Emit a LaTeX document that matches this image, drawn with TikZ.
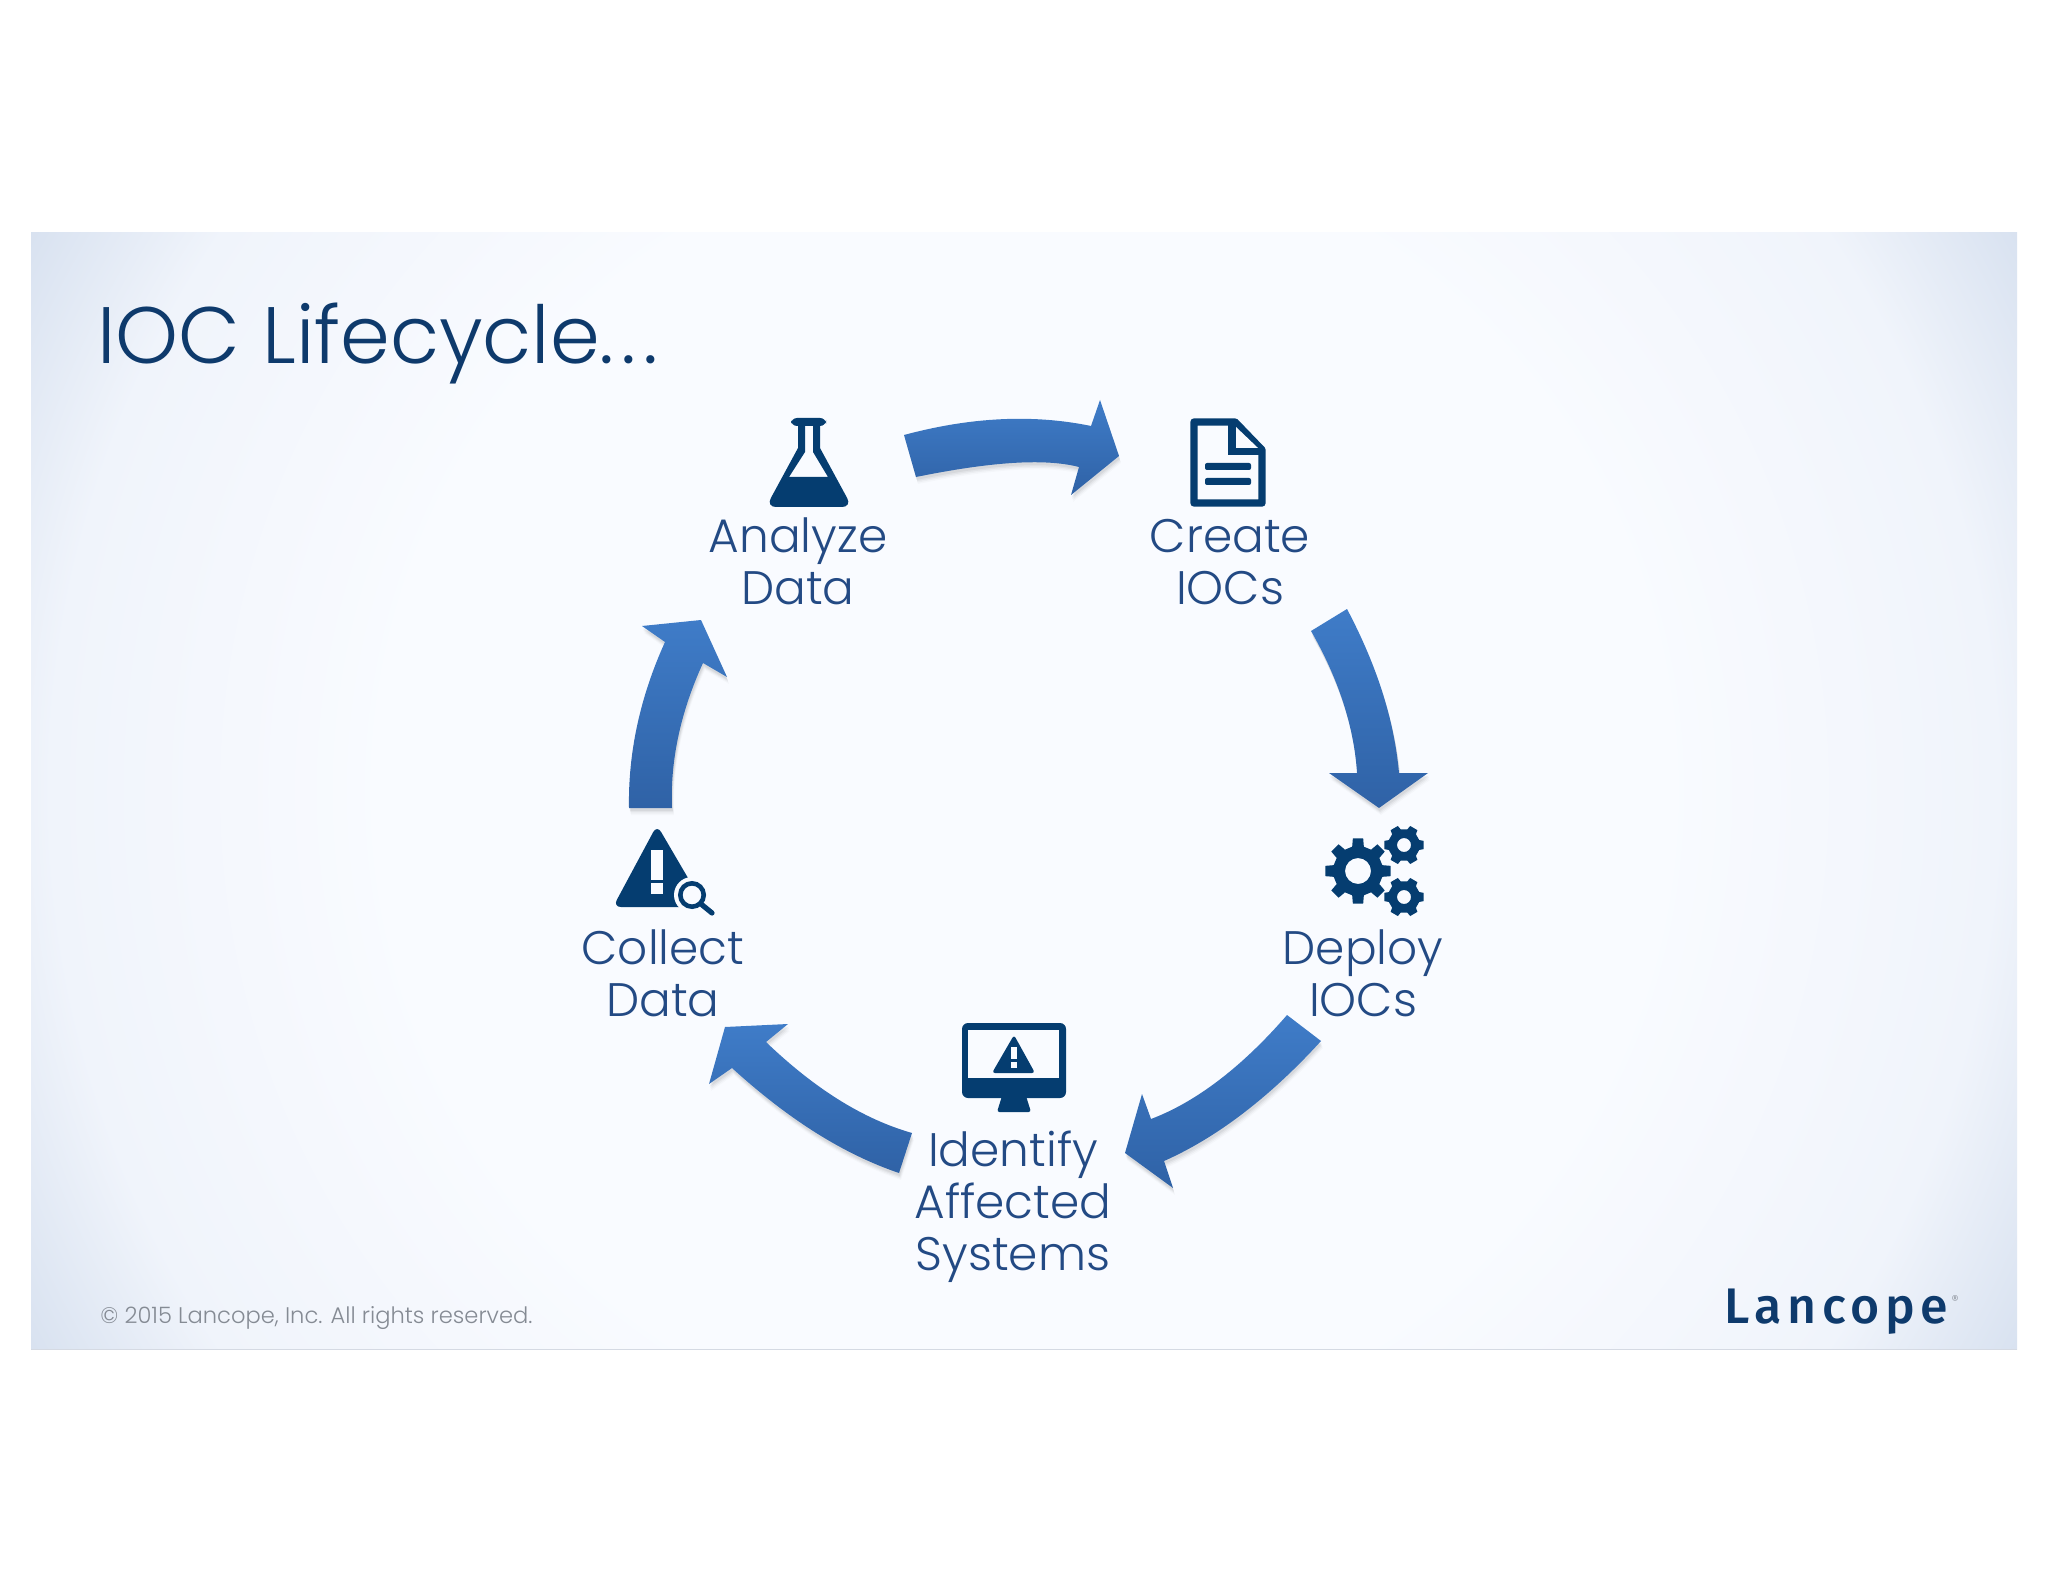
\documentclass[tikz,border=0pt]{standalone}
\usepackage{fontspec}
\setmainfont{Poppins Light}
\newfontfamily\logofont[LetterSpace=11]{Fira Sans Medium}
\usetikzlibrary{calc}
\definecolor{panelA}{HTML}{F9FBFF}
\definecolor{panelB}{HTML}{F0F4FB}
\definecolor{panelC}{HTML}{D6E0EF}
\definecolor{paneledge}{HTML}{D5DAE3}
\definecolor{icondark}{HTML}{053D70}
\definecolor{titleblue}{HTML}{0E3A6C}
\definecolor{labelblue}{HTML}{234A84}
\definecolor{copygrey}{HTML}{858B94}
\definecolor{arrowtop}{HTML}{3F7CC8}
\definecolor{arrowbot}{HTML}{2F62A6}
\pgfdeclareradialshading{panelbg}{\pgfpoint{0bp}{0bp}}{color(0bp)=(panelA); color(16bp)=(panelA); color(24.5bp)=(panelB); color(29bp)=(panelC); color(50bp)=(panelC)}
\tikzset{
  lbl/.style={text=labelblue,font=\fontsize{23.5}{26}\selectfont,align=center,anchor=base,inner sep=0pt},
  iconfill/.style={fill=icondark,draw=none},
  hole/.style={fill=panelA,draw=none}
}
\newcommand\blockarrow[1]{%
  \foreach \s/\o in {5/0.02,4/0.03,3/0.04,2/0.05}{\fill[black,opacity=\o,shift={(0.4*\s,1.4*\s)}] #1;}
  \shade[top color=arrowtop,bottom color=arrowbot] #1;
}
% centre x, centre y, tooth count, outer r, root r, hole r, phase
\newcommand\gearicon[7]{%
  \pgfmathsetmacro\st{360/#3}
  \fill[icondark,even odd rule]
    ([shift={(#1,#2)}]#7-0.30*\st:#5)
    \foreach \k in {1,...,#3}{
      -- ([shift={(#1,#2)}]#7+\k*\st-\st-0.20*\st:#4)
      -- ([shift={(#1,#2)}]#7+\k*\st-\st+0.20*\st:#4)
      -- ([shift={(#1,#2)}]#7+\k*\st-\st+0.30*\st:#5)
      -- ([shift={(#1,#2)}]#7+\k*\st-\st+0.70*\st:#5)
    } -- cycle
    (#1,#2) circle (#6);
}
\begin{document}
\begin{tikzpicture}[x=0.5pt,y=-0.5pt]
\useasboundingbox (0,0) rectangle (2048,1582);
\fill[white] (0,0) rectangle (2048,1582);
% panel
\begin{scope}
  \clip (31,233) rectangle (2017,1349);
  \shade[shading=panelbg] (31,-213) rectangle (2017,1795);
\end{scope}
\draw[color=paneledge,line width=0.5pt] (31,1349) -- (2017,1349);
% title
\node[anchor=base west,inner sep=0pt,text=titleblue,font=\fontsize{40}{44}\selectfont] (title) at (97,364) {IOC Lifecycle.\kern3.5pt.\kern3.5pt.};
\node[anchor=base west,inner sep=0pt,text=copygrey,font=\fontsize{11.3}{14}\selectfont] (copy) at (100,1323) {© 2015 Lancope, Inc. All rights reserved.};
\node[anchor=base west,inner sep=0pt,text=titleblue,font=\logofont\fontsize{25}{28}\selectfont] (logo) at (1724,1323) {Lancope};
\node[inner sep=0pt,text=copygrey,font=\fontsize{7}{8}\selectfont] (reg) at (1955,1301) {®};
% block arrows
\blockarrow{(904,435) .. controls (971,417) and (1033,414) .. (1091,426) -- (1100,400) -- (1119,456) -- (1071,495) -- (1079,467) .. controls (1044,458) and (990,462) .. (916,477) -- cycle}
\blockarrow{(1347,609) .. controls (1376,664) and (1394,718) .. (1399,773) -- (1428,773) -- (1379,808) -- (1329,773) -- (1357,773) .. controls (1354,726) and (1338,678) .. (1311,631) -- cycle}
\blockarrow{(1321,1041) .. controls (1269,1098) and (1216,1138) .. (1164,1161) -- (1173,1188) -- (1125,1153) -- (1142,1094) -- (1151,1119) .. controls (1196,1102) and (1242,1067) .. (1287,1015) -- cycle}
\blockarrow{(725,1027) -- (788,1024) -- (766,1042) .. controls (815,1089) and (863,1119) .. (912,1133) -- (899,1173) .. controls (843,1154) and (788,1119) .. (732,1068) -- (709,1084) -- cycle}
\blockarrow{(629,808) .. controls (628,753) and (640,697) .. (665,642) -- (642,626) -- (701,620) -- (727,677) -- (703,663) .. controls (681,711) and (670,760) .. (672,808) -- cycle}
% flask
\fill[iconfill,rounded corners=3pt] (791,418) rectangle (826,426);
\fill[iconfill,even odd rule] (798,424) -- (820,424) -- (820,448) [rounded corners=5pt] -- (852,507) -- (766,507) [sharp corners] -- (798,448) -- cycle
  (805,426) -- (813,426) -- (813,452) -- (828,477) -- (789,477) -- (805,452) -- cycle;
% document
\draw[icondark,line width=3.7pt,line join=round,fill=panelA] (1194,422) -- (1235,422) -- (1262,450) -- (1262,503) -- (1194,503) -- cycle;
\fill[iconfill] (1228,420) rectangle (1236,455);
\fill[iconfill] (1228,448) rectangle (1264,455);
\fill[hole] (1236,427) -- (1258,448) -- (1236,448) -- cycle;
\fill[iconfill,rounded corners=1pt] (1205,463) rectangle (1251,470);
\fill[iconfill,rounded corners=1pt] (1205,478) rectangle (1251,485);
% gears
\gearicon{1358}{871}{8}{33}{25}{13}{0}
\gearicon{1404}{845}{6}{20}{16}{7}{0}
\gearicon{1404}{897}{6}{20}{16}{7}{0}
% monitor
\fill[iconfill,rounded corners=3pt] (962,1023) rectangle (1066,1098);
\fill[hole] (968,1030) rectangle (1059,1078);
\fill[iconfill,rounded corners=1.2pt] (1002,1096) -- (1026,1096) -- (1031,1112) -- (997,1112) -- cycle;
\fill[iconfill,rounded corners=1.5pt] (1014,1035) -- (1035,1073) -- (992,1073) -- cycle;
\fill[hole] (1011,1047) rectangle (1017,1059);
\fill[hole] (1011,1062) rectangle (1017,1068);
% warning and magnifier
\fill[iconfill,rounded corners=4pt] (657,825) -- (705,907) -- (613,907) -- cycle;
\fill[hole] (651,850) rectangle (663,880);
\fill[hole] (651,883) rectangle (663,894);
\fill[hole] (692,895) circle (18);
\fill[hole] (704,907) rectangle (715,912);
\draw[icondark,line width=2.3pt] (692,895) circle (11.7);
\draw[icondark,line width=2.6pt,line cap=round] (701,904) -- (712,913);
% labels
\node[lbl] (analyze) at (798,604) {Analyze\\Data};
\node[lbl] (create) at (1230,604) {Create\\IOCs};
\node[lbl] (deploy) at (1363,1016) {Deploy\\IOCs};
\node[lbl] (identify) at (1013,1270) {Identify\\Affected\\Systems};
\node[lbl] (collect) at (663,1016) {Collect\\Data};
\end{tikzpicture}
\end{document}
